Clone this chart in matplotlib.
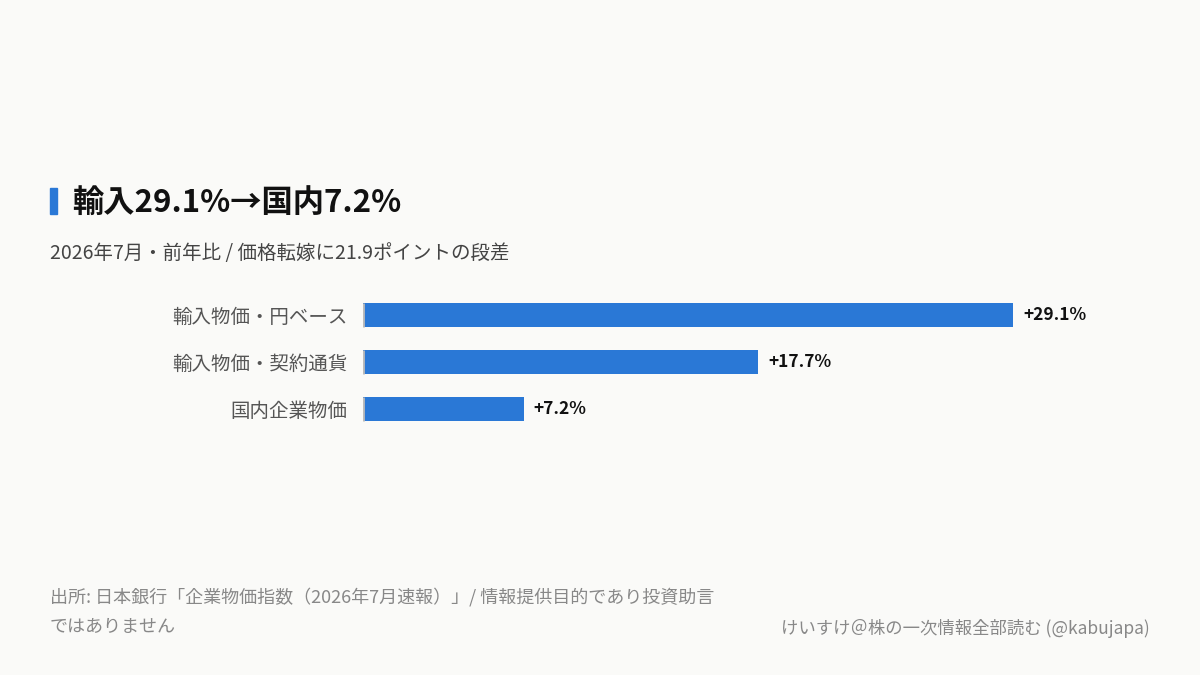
import matplotlib
matplotlib.use("Agg")
import matplotlib.pyplot as plt
from matplotlib.patches import Rectangle

plt.rcParams['font.family'] = ['Noto Sans CJK JP', 'DejaVu Sans']

# data
categories = ["輸入物価・円ベース", "輸入物価・契約通貨", "国内企業物価"]
values = [29.1, 17.7, 7.2]
value_labels = ["+29.1%", "+17.7%", "+7.2%"]

title = "輸入29.1%→国内7.2%"
subtitle = "2026年7月・前年比 / 価格転嫁に21.9ポイントの段差"
source_lines = ["出所: 日本銀行「企業物価指数（2026年7月速報）」/ 情報提供目的であり投資助言",
                "ではありません"]
credit = "けいすけ＠株の一次情報全部読む (@kabujapa)"

bg = "#fafaf8"
blue = "#2a78d6"
W, H = 1200, 675

fig = plt.figure(figsize=(12, 6.75), dpi=100, facecolor=bg)

# title block
fig.patches.append(Rectangle((50 / W, 1 - 214 / H), 7 / W, 26 / H,
                             transform=fig.transFigure, color=blue, zorder=3))
fig.text(72 / W, 1 - 203 / H, title, fontsize=22.5, fontweight='bold',
         color="#111111", va='center', ha='left')
fig.text(50 / W, 1 - 253 / H, subtitle, fontsize=14, color="#444444",
         va='center', ha='left')

# bars
ax = fig.add_axes([363 / W, 1 - 432.5 / H, (1150 - 363) / W, 141 / H])
ax.set_facecolor(bg)
y = list(range(len(categories)))
ax.barh(y, values, height=0.51, color=blue, zorder=2)
ax.vlines([0] * len(y), [i - 0.255 for i in y], [i + 0.255 for i in y],
          color="#bbbbbb", linewidth=2, zorder=3)
for i, (v, lab) in enumerate(zip(values, value_labels)):
    ax.annotate(lab, (v, i), xytext=(10, 0), textcoords='offset pixels',
                va='center', ha='left', fontsize=12.5, fontweight='bold',
                color="#111111")
ax.set_xlim(0, 29.1 * (1150 - 363) / 650)
ax.set_ylim(len(categories) - 0.5, -0.5)
ax.set_yticks(y)
ax.set_yticklabels(categories, fontsize=14, color="#555555")
ax.tick_params(axis='y', length=0, pad=11)
ax.set_xticks([])
for s in ax.spines.values():
    s.set_visible(False)

# footer
fig.text(50 / W, 1 - 597 / H, source_lines[0], fontsize=13, color="#888888",
         va='center', ha='left')
fig.text(50 / W, 1 - 627 / H, source_lines[1], fontsize=13, color="#888888",
         va='center', ha='left')
fig.text(1150 / W, 1 - 628 / H, credit, fontsize=12.5, color="#888888",
         va='center', ha='right')

fig.savefig("out.png", dpi=100, facecolor=bg)
